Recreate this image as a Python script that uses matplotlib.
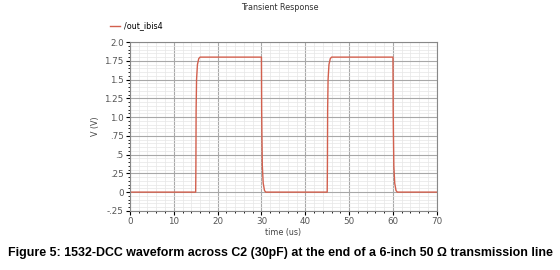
import numpy as np
import matplotlib.pyplot as plt
from matplotlib.ticker import MultipleLocator

# waveform (time in us, volts)
t = [0, 15.0, 15.05, 15.1, 15.2, 15.4, 15.7, 16.0, 30.0, 30.05, 30.1, 30.2, 30.4, 30.7, 31.0,
     45.0, 45.05, 45.1, 45.2, 45.4, 45.7, 46.0, 60.0, 60.05, 60.1, 60.2, 60.4, 60.7, 61.0, 70]
v = [0, 0, 0.35, 1.1, 1.5, 1.7, 1.78, 1.8, 1.8, 1.1, 0.8, 0.35, 0.12, 0.02, 0,
     0, 0.35, 1.1, 1.5, 1.7, 1.78, 1.8, 1.8, 1.1, 0.8, 0.35, 0.12, 0.02, 0, 0]

yticks = [-0.25, 0, 0.25, 0.5, 0.75, 1.0, 1.25, 1.5, 1.75, 2.0]
ylabels = ['-.25', '0', '.25', '.5', '.75', '1.0', '1.25', '1.5', '1.75', '2.0']
xticks = [0, 10, 20, 30, 40, 50, 60, 70]

plt.rcParams['font.family'] = ['DejaVu Sans']

fig = plt.figure(figsize=(5.6, 2.7), dpi=100)
ax = fig.add_axes([0.232, 0.219, 0.548, 0.625])

ax.plot(t, v, color='#d2604e', lw=1.0, label='/out_ibis4')
ax.set_xlim(0, 70)
ax.set_ylim(-0.25, 2.0)
ax.set_xticks(xticks)
ax.set_yticks(yticks)
ax.set_yticklabels(ylabels)
ax.xaxis.set_minor_locator(MultipleLocator(2))
ax.yaxis.set_minor_locator(MultipleLocator(0.05))
ax.grid(which='major', color='#a8a8a8', lw=0.8)
ax.grid(which='minor', color='#e6e6e6', lw=0.5)
ax.set_axisbelow(True)
ax.tick_params(which='major', length=3, width=0.8, labelsize=6.3, labelcolor='#555555', pad=1.5)
ax.tick_params(which='minor', length=1.5, width=0.6)
for s in ax.spines.values():
    s.set_color('#888888')
    s.set_linewidth(0.8)

ax.set_xlabel('time (us)', fontsize=5.8, color='#444444', labelpad=1)
ax.set_ylabel('V (V)', fontsize=5.8, color='#444444', labelpad=3)
fig.text(0.5, 0.99, 'Transient Response', ha='center', va='top', fontsize=5.8, color='#333333')
ax.legend(loc='lower left', bbox_to_anchor=(-0.075, 1.05), frameon=False, fontsize=5.8,
          handlelength=1.2, handletextpad=0.5, borderaxespad=0)

fig.text(0.5, 0.062, 'Figure 5: 1532-DCC waveform across C2 (30pF) at the end of a 6-inch 50 \u03a9 transmission line',
         ha='center', va='center', fontsize=8.95, fontweight='bold', family='Liberation Sans')

fig.savefig('out.png', dpi=100)
